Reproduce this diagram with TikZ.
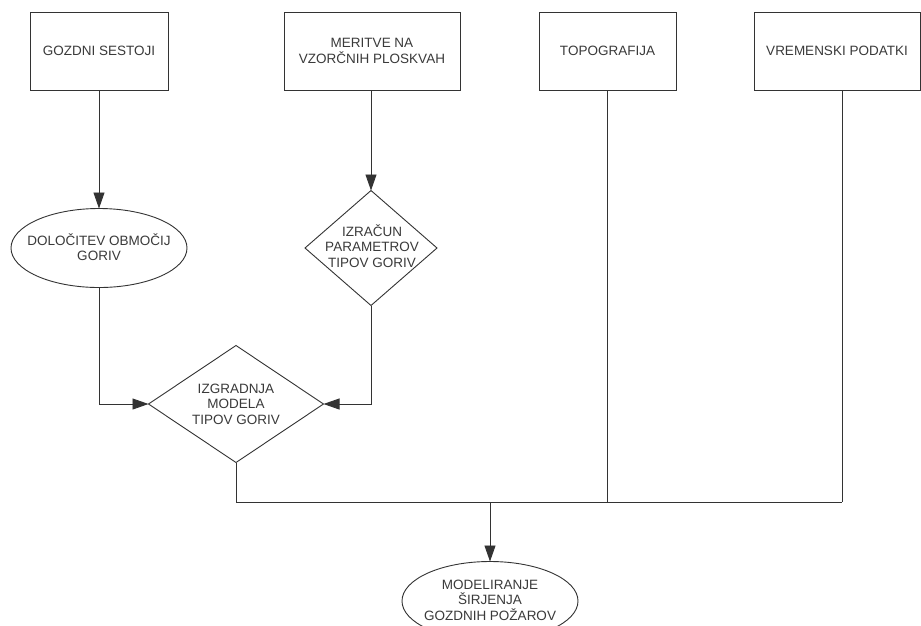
\documentclass[tikz,border=0pt]{standalone}
\usepackage{fontspec}
\setmainfont{Liberation Sans}
\usetikzlibrary{shapes.geometric,arrows.meta}
\definecolor{ln}{HTML}{333333}
\definecolor{tx}{HTML}{3A3A3A}
\begin{document}
\begin{tikzpicture}[x=1pt,y=-1pt,
 every node/.style={inner sep=0pt, outer sep=0pt},
 box/.style={draw=ln, line width=0.9pt, rectangle, minimum height=78pt},
 oval/.style={draw=ln, line width=0.9pt, ellipse, minimum width=176pt, minimum height=79pt},
 dia/.style={draw=ln, line width=0.9pt, diamond},
 txt/.style={text=tx, font=\fontsize{13.5}{15.5}\selectfont, align=center},
 conn/.style={draw=ln, line width=0.9pt},
 arr/.style={conn, -{Triangle[length=16pt,width=11pt]}}]
\useasboundingbox (0,0) rectangle (921,625);
\clip (0,0) rectangle (921,625);
\fill[white] (0,0) rectangle (921,625);
% top boxes
\node[box, minimum width=138pt] (b1) at (99,51) {};
\node[txt] (t1) at (b1) {GOZDNI SESTOJI};
\node[box, minimum width=176pt] (b2) at (372,51) {};
\node[txt] (t2) at (b2) {MERITVE NA\\VZORČNIH PLOSKVAH};
\node[box, minimum width=137pt] (b3) at (607.5,51) {};
\node[txt] (t3) at (b3) {TOPOGRAFIJA};
\node[box, minimum width=166pt] (b4) at (837,51) {};
\node[txt] (t4) at (b4) {VREMENSKI PODATKI};
% second row
\node[oval] (e1) at (99,248) {};
\node[txt] (te1) at (99,247) {DOLOČITEV OBMOČIJ\\GORIV};
\node[dia, minimum width=132pt, minimum height=115pt] (d1) at (371,248) {};
\node[txt] (td1) at (372,246) {IZRAČUN\\PARAMETROV\\TIPOV GORIV};
% third
\node[dia, minimum width=175pt, minimum height=117pt] (d2) at (236,404) {};
\node[txt] (td2) at (236,404) {IZGRADNJA\\MODELA\\TIPOV GORIV};
% final
\node[oval] (e2) at (490,601) {};
\node[txt] (te2) at (490,600) {MODELIRANJE\\ŠIRJENJA\\GOZDNIH POŽAROV};
% connectors
\coordinate (jm) at (490,502);
\coordinate (vj) at (842,502);
\draw[arr] (b1.south) -- (e1.north);
\draw[arr] (b2.south -| d1.north) -- (d1.north);
\draw[arr] (e1.south) |- (d2.west);
\draw[arr] (d1.south) |- (d2.east);
\draw[conn] (d2.south) |- (vj);
\draw[conn] (b3.south) -- (b3.south |- jm);
\draw[conn] (b4.south -| vj) -- (vj);
\draw[arr] (jm) -- (e2.north);
\end{tikzpicture}
\end{document}
